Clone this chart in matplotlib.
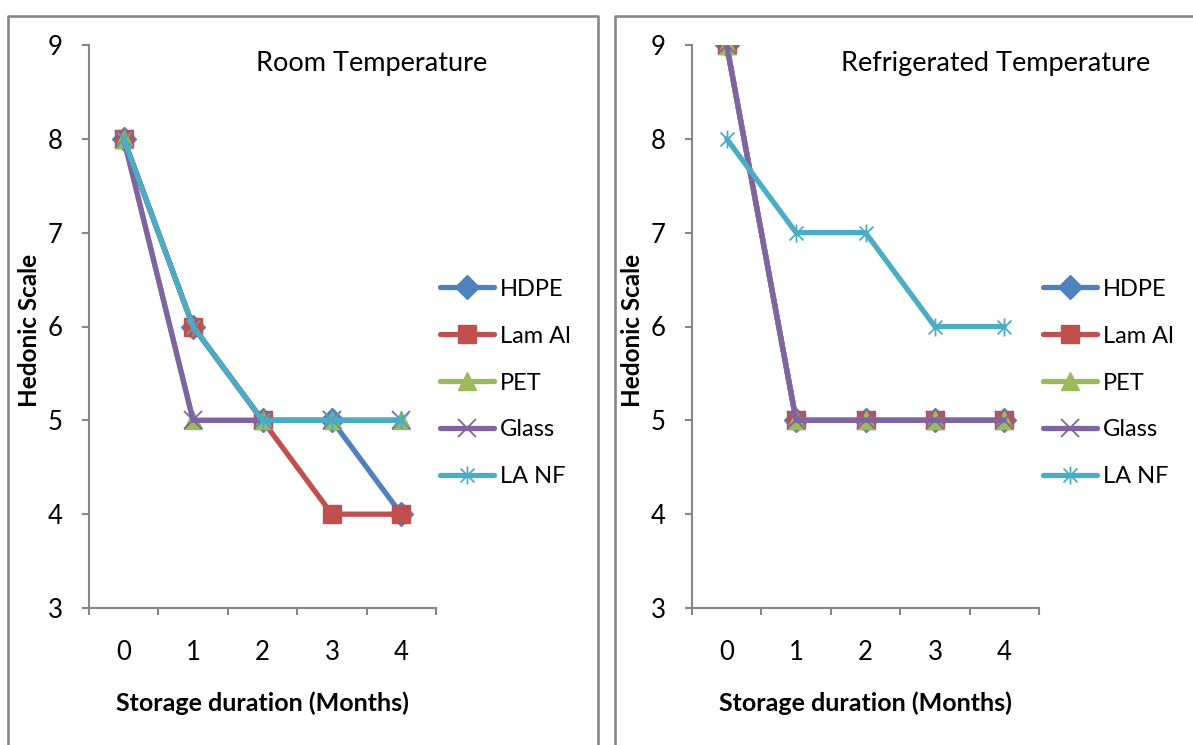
import matplotlib
matplotlib.use('Agg')
import matplotlib.pyplot as plt
from matplotlib.lines import Line2D
from matplotlib.path import Path

plt.rcParams['font.family'] = ['Lato', 'DejaVu Sans']

months = [0, 1, 2, 3, 4]
series = ['HDPE', 'Lam Al', 'PET', 'Glass', 'LA NF']

# hedonic scores at room temperature
room_hdpe = [8, 6, 5, 5, 4]
room_lamal = [8, 6, 5, 4, 4]
room_pet = [8, 5, 5, 5, 5]
room_glass = [8, 5, 5, 5, 5]
room_lanf = [8, 6, 5, 5, 5]

# hedonic scores under refrigeration
fridge_hdpe = [9, 5, 5, 5, 5]
fridge_lamal = [9, 5, 5, 5, 5]
fridge_pet = [9, 5, 5, 5, 5]
fridge_glass = [9, 5, 5, 5, 5]
fridge_lanf = [8, 7, 7, 6, 6]

colors = ['#4F81BD', '#C0504D', '#9BBB59', '#8064A2', '#4BACC6']

# excel style star: an x with a vertical bar through it
star = Path([(-1, -1), (1, 1), (-1, 1), (1, -1), (0, -1.3), (0, 1.3)],
            [Path.MOVETO, Path.LINETO, Path.MOVETO, Path.LINETO, Path.MOVETO, Path.LINETO])
markers = [('D', 12, 1), ('s', 13, 1), ('^', 13, 1), ('x', 13, 1.3), (star, 13, 1.3)]

W, H = 1193, 745
fig = plt.figure(figsize=(W / 100, H / 100), dpi=100)
grey = '#878787'


def frame(x0, x1, y0):
    # chart area border, runs off the bottom (and right) of the canvas
    xs = [x0 / W, x0 / W, x1 / W, x1 / W]
    ys = [-0.1, 1 - y0 / H, 1 - y0 / H, -0.1]
    fig.add_artist(Line2D(xs, ys, transform=fig.transFigure, color=grey, lw=1.9))


def panel(left, title, title_x, data, leg_x):
    ax = fig.add_axes([left / W, 1 - 608 / H, 347 / W, (608 - 45) / H])
    for vals, c, (m, ms, mew) in zip(data, colors, markers):
        ax.plot(months, vals, color=c, lw=3.8, marker=m, markersize=ms,
                markeredgewidth=mew, markeredgecolor=c, markerfacecolor=c,
                solid_capstyle='round')
    ax.set_xlim(-0.5, 4.5)
    ax.set_ylim(3, 9)
    ax.set_yticks(range(3, 10))
    ax.set_xticks(months)
    ax.set_xticks([-0.5, 0.5, 1.5, 2.5, 3.5, 4.5], minor=True)
    for s in ['top', 'right']:
        ax.spines[s].set_visible(False)
    for s in ['left', 'bottom']:
        ax.spines[s].set_color(grey)
        ax.spines[s].set_linewidth(1.5)
    ax.tick_params(axis='y', length=5, width=1.5, color=grey, pad=14, labelsize=18.5)
    ax.tick_params(axis='x', which='major', length=0, pad=23, labelsize=18.5)
    ax.tick_params(axis='x', which='minor', length=5, width=1.5, color=grey)
    ax.set_xlabel('Storage duration (Months)', fontsize=18, fontweight='bold', va='center')
    ax.set_ylabel('Hedonic Scale', fontsize=17.5, fontweight='bold', va='center', ha='center')
    ax.xaxis.set_label_coords((left + 173) / W, 1 - 703 / H, transform=fig.transFigure)
    ax.yaxis.set_label_coords((left - 59) / W, 1 - 330 / H, transform=fig.transFigure)
    fig.text(title_x / W, 1 - 64 / H, title, fontsize=19.5, ha='center', va='center')
    ax.legend(series, loc='center left', bbox_to_anchor=(leg_x / W, 1 - 383 / H),
              bbox_transform=fig.transFigure, frameon=False, fontsize=17,
              handlelength=2.3, handletextpad=0.25, labelspacing=1.1,
              borderpad=0, borderaxespad=0)
    return ax


frame(8, 598, 16)
frame(615, 1260, 16)

panel(89, 'Room Temperature', 372,
      [room_hdpe, room_lamal, room_pet, room_glass, room_lanf], 440)
panel(692, 'Refrigerated Temperature', 996,
      [fridge_hdpe, fridge_lamal, fridge_pet, fridge_glass, fridge_lanf], 1043)

fig.savefig('out.png', dpi=100)
